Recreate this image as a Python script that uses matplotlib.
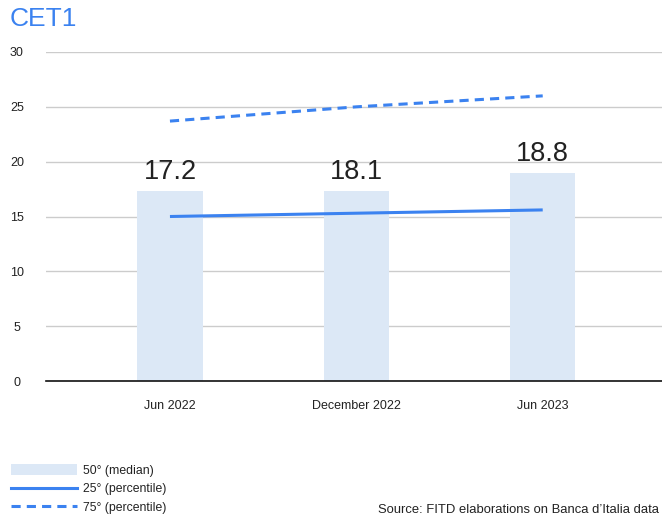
import matplotlib
matplotlib.use("Agg")
import matplotlib.pyplot as plt
from matplotlib.patches import Patch
from matplotlib.lines import Line2D

plt.rcParams['font.family'] = ['Liberation Sans', 'DejaVu Sans']

categories = ['Jun 2022', 'December 2022', 'Jun 2023']
median = [17.3, 17.3, 19.0]
median_labels = ['17.2', '18.1', '18.8']
p25 = [15.0, 15.3, 15.6]
p75 = [23.7, 25.0, 26.0]
yticks = [0, 5, 10, 15, 20, 25, 30]

blue = '#3b82f0'
barcol = '#dce8f6'
txt = '#222222'

fig = plt.figure(figsize=(6.62, 5.15), dpi=100)
ax = fig.add_axes([46 / 662, 1 - 381 / 515, 1 - 46 / 662, (381 - 52) / 515])

x = list(range(len(categories)))
ax.bar(x, median, width=0.35, color=barcol, zorder=2)
ax.plot(x, p25, color=blue, lw=2.2, zorder=3, solid_capstyle='butt')
ax.plot(x, p75, color=blue, lw=2.2, zorder=3, dashes=(3, 2))

for xi, v, lab in zip(x, median, median_labels):
    ax.annotate(lab, (xi, v), xytext=(0, 8.5), textcoords='offset points',
                ha='center', va='baseline', fontsize=19.5, color=txt)

ax.set_xlim(-0.665, 2.64)
ax.set_ylim(0, 30)
ax.set_yticks(yticks)
ax.set_xticks(x)
ax.set_xticklabels(categories)
ax.tick_params(axis='both', length=0, labelsize=9, labelcolor=txt)
ax.tick_params(axis='x', pad=14)
ax.tick_params(axis='y', pad=21)
for lab in ax.get_yticklabels():
    lab.set_ha('center')
ax.yaxis.grid(True, color='#cccccc', lw=1, zorder=0)
for s in ['top', 'right', 'left']:
    ax.spines[s].set_visible(False)
ax.spines['bottom'].set_color('#111111')
ax.spines['bottom'].set_linewidth(1.2)
ax.spines['bottom'].set_zorder(4)

fig.text(10 / 662, 1 - 19 / 515, 'CET1', color=blue, fontsize=19,
         fontweight='normal', va='center', ha='left')

handles = [Patch(facecolor=barcol, edgecolor='none'),
           Line2D([0], [0], color=blue, lw=2.2),
           Line2D([0], [0], color=blue, lw=2.2, dashes=(3, 2))]
labels = ['50° (median)', '25° (percentile)', '75° (percentile)']
fig.legend(handles, labels, loc='upper left', bbox_to_anchor=(0.0, 1 - 453 / 515),
           frameon=False, fontsize=8.8, handlelength=5.4, handleheight=1.0,
           labelspacing=0.5, handletextpad=0.5, borderpad=0.4,
           labelcolor=txt)

fig.text(378 / 662, 1 - 510 / 515, "Source: FITD elaborations on Banca d\u2019Italia data",
         fontsize=9.4, color=txt, ha='left', va='center')

fig.savefig('out.png', dpi=100)
